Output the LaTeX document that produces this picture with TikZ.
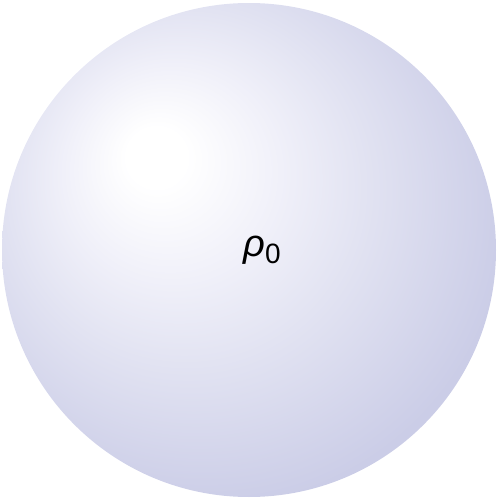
\documentclass[tikz,border=0pt]{standalone}
\usepackage{fontspec}
\setmainfont{Liberation Sans}
\definecolor{lavA}{RGB}{240,240,249}
\definecolor{lavB}{RGB}{226,227,242}
\definecolor{lavC}{RGB}{203,205,231}
\definecolor{lavD}{RGB}{186,189,221}
\pgfdeclareradialshading{spherelav}{\pgfpoint{-10bp}{10bp}}{%
  color(0bp)=(white);
  color(3bp)=(white);
  color(11bp)=(lavA);
  color(18bp)=(lavB);
  color(30bp)=(lavC);
  color(50bp)=(lavD)}
\tikzset{sphere/.style={shading=spherelav, draw=none},
  label/.style={font=\fontsize{38}{44}\selectfont, inner sep=0pt}}
\begin{document}
\begin{tikzpicture}[x=1pt,y=-1pt]
\useasboundingbox (0,0) rectangle (499,498);
\shade[sphere] (249,250) circle (247);
\node[label] (rho) at (262,250) {\textit{ρ}\raisebox{-0.2em}{\fontsize{28}{32}\selectfont 0}};
\end{tikzpicture}
\end{document}
